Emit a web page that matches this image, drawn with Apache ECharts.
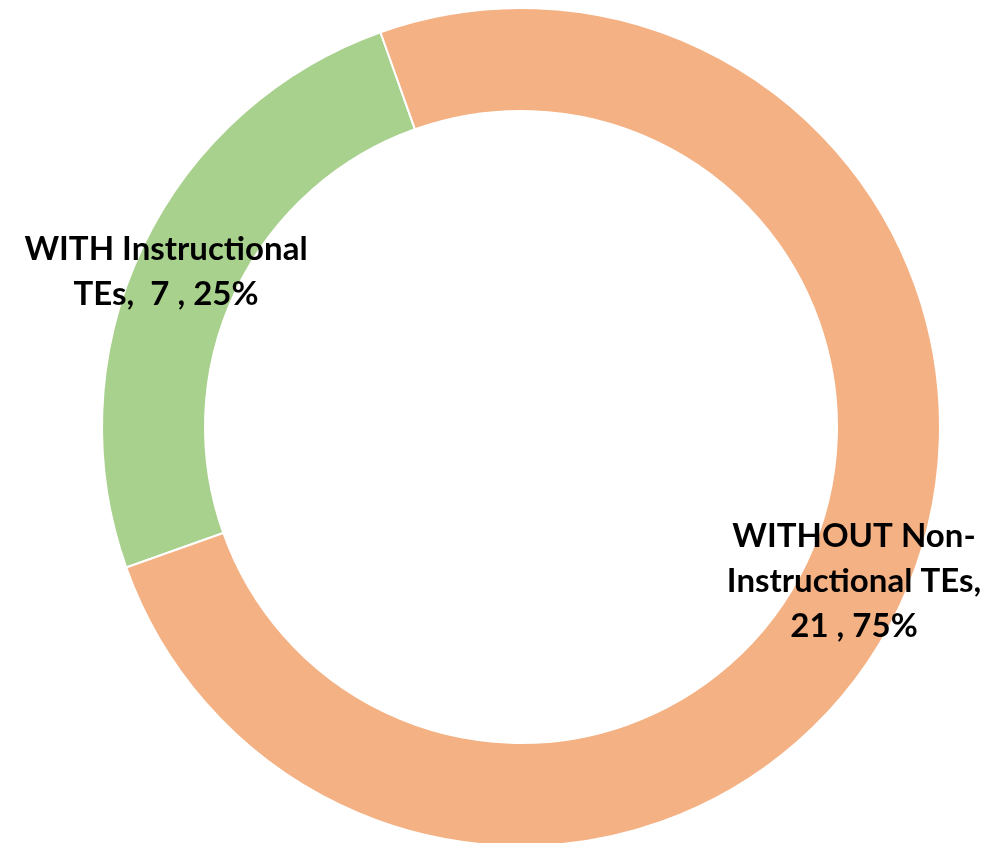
<!DOCTYPE html>
<html>
<head>
<meta charset="utf-8">
<script src="https://cdn.jsdelivr.net/npm/echarts@6/dist/echarts.min.js"></script>
<style>
    html, body { margin: 0; padding: 0; background: #fff; }
    #chart { width: 1007px; height: 843px; }
</style>
</head>
<body>
<div id="chart"></div>
<script>
    // slice names (line breaks as in the original labels)
    const categories = ["WITH Instructional\nTEs", "WITHOUT Non-\nInstructional TEs"];
    const values = [7, 21];
    const colors = ["#A9D18E", "#F4B183"];
    // separator between name and value in each label
    const separators = [",  ", ",\n"];
    // label anchor points (px)
    const labelPos = [[166, 272], [854, 581]];

    const chart = echarts.init(document.getElementById("chart"));

    const option = {
        backgroundColor: "#fff",
        animation: false,
        series: [
            {
                type: "pie",
                center: [521, 427],
                radius: [316, 419],
                startAngle: 199.6,
                clockwise: true,
                avoidLabelOverlap: false,
                itemStyle: {
                    borderColor: "#fff",
                    borderWidth: 2
                },
                label: {
                    show: true,
                    position: "inside",
                    color: "#000",
                    fontFamily: "Lato",
                    fontWeight: "bold",
                    fontSize: 33,
                    lineHeight: 45,
                    align: "center",
                    verticalAlign: "middle",
                    formatter: function(p) {
                        return p.name + separators[p.dataIndex] + p.value + " , " + Math.round(p.percent) + "%";
                    }
                },
                labelLine: { show: false },
                labelLayout: function(params) {
                    const pos = labelPos[params.dataIndex];
                    return { x: pos[0], y: pos[1], align: "center", verticalAlign: "middle" };
                },
                emphasis: { disabled: true },
                data: categories.map((name, i) => ({
                    name: name,
                    value: values[i],
                    itemStyle: { color: colors[i] }
                }))
            }
        ]
    };

    chart.setOption(option);
</script>
</body>
</html>
